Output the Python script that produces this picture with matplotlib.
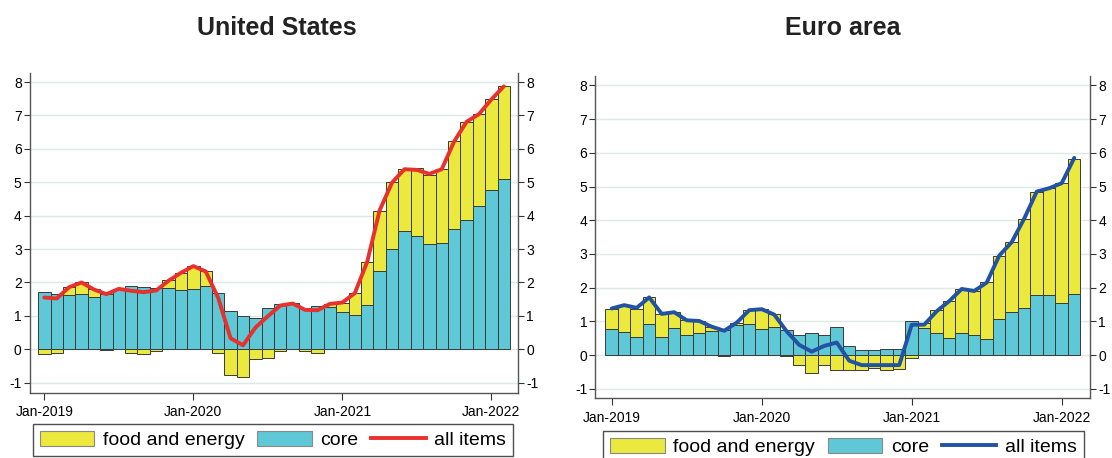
import numpy as np
import matplotlib
matplotlib.use("Agg")
import matplotlib.pyplot as plt
from matplotlib.patches import Patch
from matplotlib.lines import Line2D

plt.rcParams['font.family'] = ['Liberation Sans', 'DejaVu Sans']

# ---- data (Jan-2019 .. Feb-2022, monthly, contributions in pp) ----
months = [f"{m}-{y}" for y in range(2019, 2023) for m in
          ["Jan", "Feb", "Mar", "Apr", "May", "Jun", "Jul", "Aug", "Sep", "Oct", "Nov", "Dec"]][:38]
tick_labels = ["Jan-2019", "Jan-2020", "Jan-2021", "Jan-2022"]
tick_pos = [0, 12, 24, 36]

us_core = [1.71, 1.67, 1.62, 1.65, 1.56, 1.67, 1.80, 1.88, 1.86, 1.82, 1.82, 1.78,
           1.80, 1.88, 1.68, 1.14, 0.99, 0.95, 1.25, 1.36, 1.38, 1.24, 1.30, 1.28,
           1.11, 1.02, 1.32, 2.34, 3.00, 3.53, 3.38, 3.15, 3.18, 3.59, 3.86, 4.29,
           4.76, 5.10]
us_food = [-0.14, -0.12, 0.23, 0.37, 0.23, -0.02, 0.01, -0.12, -0.15, -0.05, 0.25, 0.50,
           0.70, 0.46, -0.12, -0.78, -0.84, -0.30, -0.25, -0.05, 0.00, -0.06, -0.12, 0.07,
           0.29, 0.66, 1.28, 1.81, 2.00, 1.87, 2.04, 2.07, 2.21, 2.64, 2.95, 2.75,
           2.73, 2.77]
us_all = [1.55, 1.52, 1.86, 2.00, 1.79, 1.65, 1.81, 1.75, 1.71, 1.76, 2.05, 2.29,
          2.49, 2.33, 1.54, 0.33, 0.12, 0.65, 0.99, 1.31, 1.37, 1.18, 1.17, 1.36,
          1.40, 1.68, 2.62, 4.16, 4.99, 5.39, 5.37, 5.25, 5.39, 6.22, 6.81, 7.04,
          7.48, 7.87]

ea_core = [0.76, 0.69, 0.54, 0.91, 0.54, 0.79, 0.58, 0.66, 0.71, 0.74, 0.89, 0.91,
           0.76, 0.84, 0.74, 0.58, 0.64, 0.58, 0.82, 0.27, 0.14, 0.14, 0.17, 0.17,
           1.00, 0.80, 0.66, 0.49, 0.64, 0.58, 0.47, 1.07, 1.27, 1.40, 1.78, 1.78,
           1.53, 1.82]
ea_food = [0.62, 0.77, 0.84, 0.80, 0.67, 0.48, 0.45, 0.35, 0.13, -0.02, 0.06, 0.42,
           0.62, 0.37, -0.04, -0.30, -0.54, -0.31, -0.45, -0.45, -0.45, -0.40, -0.45, -0.42,
           -0.08, 0.14, 0.67, 1.12, 1.33, 1.33, 1.69, 1.88, 2.07, 2.64, 3.07, 3.17,
           3.56, 4.01]
ea_all = [1.38, 1.48, 1.40, 1.71, 1.22, 1.27, 1.03, 1.01, 0.84, 0.72, 0.96, 1.33,
          1.36, 1.20, 0.70, 0.30, 0.10, 0.27, 0.37, -0.17, -0.30, -0.30, -0.30, -0.30,
          0.90, 0.90, 1.30, 1.60, 1.96, 1.90, 2.15, 2.95, 3.35, 4.05, 4.85, 4.95,
          5.10, 5.85]

YELLOW = "#EBE83E"
CYAN = "#5EC8D6"
RED = "#E8302C"
BLUE = "#2152A3"
EDGE = "#3a3a3a"
GRID = "#DDE8E8"

fig = plt.figure(figsize=(11.12, 4.58), dpi=100)

def panel(rect, core, food, allv, lcolor, xlim, ylim, title, title_x):
    ax = fig.add_axes(rect)
    x = np.arange(len(core))
    core = np.array(core)
    food = np.array(food)
    ax.bar(x, core, width=1.0, color=CYAN, edgecolor=EDGE, linewidth=0.7, zorder=2)
    ax.bar(x, food, width=1.0, bottom=np.where(food >= 0, core, 0), color=YELLOW,
           edgecolor=EDGE, linewidth=0.7, zorder=2)
    ax.plot(x, allv, color=lcolor, linewidth=2.8, zorder=3, solid_capstyle='round',
            solid_joinstyle='round')
    ax.set_xlim(*xlim)
    ax.set_ylim(*ylim)
    ax.set_yticks(range(-1, 9))
    ax.set_yticklabels([str(v) for v in range(-1, 9)])
    ax.set_xticks(tick_pos)
    ax.set_xticklabels(tick_labels)
    ax.yaxis.grid(True, color=GRID, linewidth=1.0, zorder=0)
    ax.set_axisbelow(True)
    ax.tick_params(axis='y', which='both', left=True, right=True, labelleft=True,
                   labelright=True, direction='out', length=4, width=0.8,
                   colors='#333333', labelcolor='black', labelsize=10, pad=2)
    ax.tick_params(axis='x', direction='out', length=5, width=0.8, colors='#333333',
                   labelcolor='black', labelsize=10, pad=4)
    ax.spines['top'].set_visible(False)
    for s in ['left', 'right', 'bottom']:
        ax.spines[s].set_color('#555555')
        ax.spines[s].set_linewidth(1.0)
    fig.text(title_x, 1 - 35 / 458, title, fontsize=18, fontweight='bold',
             ha='center', va='baseline', color='#222222')
    return ax

ax1 = panel([30 / 1112, 1 - 392.5 / 458, 488 / 1112, 319.5 / 458],
            us_core, us_food, us_all, RED, (-1.151, 38.14), (-1.293, 8.27),
            "United States", 276.5 / 1112)
ax2 = panel([595.5 / 1112, 1 - 398 / 458, 494.5 / 1112, 322 / 458],
            ea_core, ea_food, ea_all, BLUE, (-1.296, 38.26), (-1.276, 8.28),
            "Euro area", 843 / 1112)

def legend(lcolor, cx, top):
    handles = [Patch(facecolor=YELLOW, edgecolor='#888888', linewidth=0.8),
               Patch(facecolor=CYAN, edgecolor='#888888', linewidth=0.8),
               Line2D([0], [0], color=lcolor, linewidth=2.8)]
    leg = fig.legend(handles, ["food and energy", "core", "all items"], ncol=3,
                     loc='upper center', bbox_to_anchor=(cx / 1112, 1 - top / 458),
                     fontsize=14, frameon=True, fancybox=False, edgecolor='#222222',
                     handlelength=2.8, handleheight=0.8, handletextpad=0.45,
                     columnspacing=0.65, borderpad=0.35, borderaxespad=0)
    leg.get_frame().set_linewidth(1.0)
    return leg

legend(RED, 273, 424)
legend(BLUE, 843.5, 431)

fig.savefig("out.png", dpi=100)
